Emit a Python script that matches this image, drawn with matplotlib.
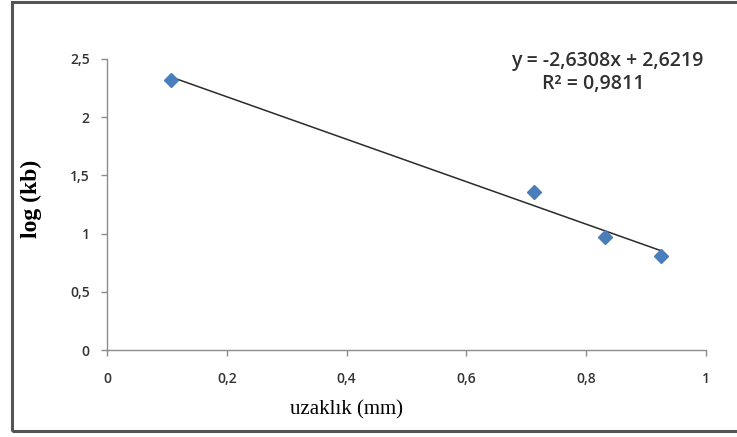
import numpy as np
import matplotlib
matplotlib.use("Agg")
import matplotlib.pyplot as plt
from matplotlib.patches import Rectangle

# Data
x_vals = [0.107, 0.713, 0.832, 0.925]
y_vals = [2.32, 1.36, 0.97, 0.81]
x_ticks = [0, 0.2, 0.4, 0.6, 0.8, 1]
x_tick_labels = ["0", "0,2", "0,4", "0,6", "0,8", "1"]
y_ticks = [0, 0.5, 1, 1.5, 2, 2.5]
y_tick_labels = ["0", "0,5", "1", "1,5", "2", "2,5"]
equation_text = "y = -2,6308x + 2,6219"
r2_text = "R² = 0,9811"
x_label = "uzaklık (mm)"
y_label = "log (kb)"

fig = plt.figure(figsize=(7.37, 4.37), dpi=100)
ax = fig.add_axes([107/737, 1-350/437, (706-107)/737, (350-59)/437])

# trendline from least squares on data
slope, intercept = np.polyfit(x_vals, y_vals, 1)
xl = np.array([min(x_vals), max(x_vals)])
ax.plot(xl, slope*xl + intercept, color="#2b2b2b", lw=1.1, zorder=2)
ax.plot(x_vals, y_vals, linestyle="none", marker="D", markersize=7,
        color="#4a7ebb", zorder=3)

ax.set_xlim(0, 1)
ax.set_ylim(0, 2.5)
ax.set_xticks(x_ticks)
ax.set_xticklabels(x_tick_labels)
ax.set_yticks(y_ticks)
ax.set_yticklabels(y_tick_labels)
for s in ["top", "right"]:
    ax.spines[s].set_visible(False)
for s in ["left", "bottom"]:
    ax.spines[s].set_color("#8c8c8c")
    ax.spines[s].set_linewidth(1.0)
ax.tick_params(axis="both", colors="#8c8c8c", length=4.5, width=1.0,
               labelcolor="#333333", labelsize=10, pad=8)
ax.tick_params(axis="x", pad=11)
for lab in ax.get_xticklabels() + ax.get_yticklabels():
    lab.set_family("Open Sans")
    lab.set_fontweight("semibold")

ax.set_xlabel(x_label, family="Liberation Serif", fontsize=15)
ax.xaxis.set_label_coords(0.399, -0.172)
ax.set_ylabel(y_label, family="Liberation Serif", fontsize=17, fontweight="bold")
ax.yaxis.set_label_coords(-0.108, 0.52)

fig.text(607/737, 1-61/437, equation_text, ha="center", va="center",
         family="Open Sans", fontsize=14, fontweight="semibold", color="#303030")
fig.text(593/737, 1-84/437, r2_text, ha="center", va="center",
         family="Open Sans", fontsize=14, fontweight="semibold", color="#303030")

# outer frame
fig.patches.append(Rectangle((11.5/737, 1-431/437), 740/737, (431-1.5)/437,
                             transform=fig.transFigure, fill=False,
                             edgecolor="#555555", lw=2.2))

fig.savefig("out.png", dpi=100)
